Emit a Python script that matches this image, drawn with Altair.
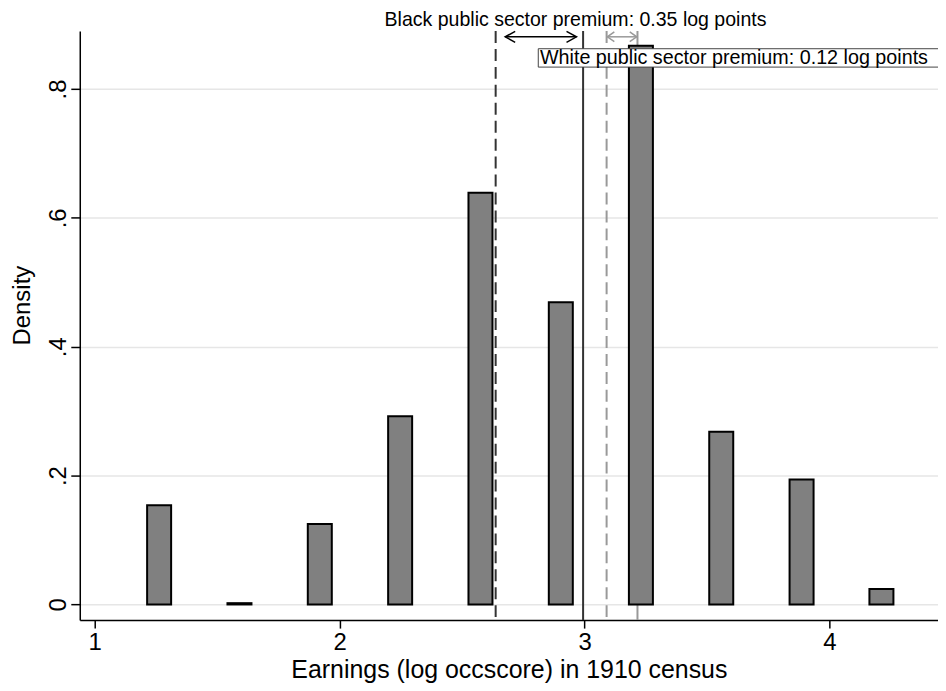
import altair as alt
import pandas as pd

# ---- data ----
bin_centers = [1.263, 1.591, 1.919, 2.247, 2.575, 2.903, 3.230, 3.558, 3.886, 4.212]
densities = [0.154, 0.002, 0.125, 0.292, 0.639, 0.469, 0.867, 0.268, 0.194, 0.024]

black_private_mean = 2.637
black_public_mean = 2.994
white_private_mean = 3.090
white_public_mean = 3.216

x_ticks = [1, 2, 3, 4]
y_ticks = [0, 0.2, 0.4, 0.6, 0.8]

black_label = "Black public sector premium: 0.35 log points"
white_label = "White public sector premium: 0.12 log points"
x_title = "Earnings (log occscore) in 1910 census"
y_title = "Density"

# ---- layout constants ----
W, H = 861, 591
HALF_BAR = 0.049
FONT = "Liberation Sans"
X_DOMAIN = [0.939, 4.443]
Y_DOMAIN = [-0.0243, 0.89]
ARROW_Y = 0.881

xs = alt.Scale(domain=X_DOMAIN, nice=False, zero=False)
ys = alt.Scale(domain=Y_DOMAIN, nice=False, zero=False)

bars_df = pd.DataFrame({"center": bin_centers, "density": densities})

x_axis = alt.Axis(
    values=x_ticks,
    format="d",
    grid=False,
    title=x_title,
    titleFontSize=25,
    titleFontWeight="normal",
    titleBaseline="alphabetic",
    titleY=58,
    labelFontSize=24,
    labelPadding=2,
    tickSize=8,
    tickColor="black",
    tickWidth=1.5,
    domainColor="black",
    domainWidth=1.5,
    labelColor="black",
    titleColor="black",
)

y_axis = alt.Axis(
    values=y_ticks,
    labelExpr="datum.value == 0 ? '0' : replace(format(datum.value, '.1f'), '0.', '.')",
    grid=True,
    gridColor="#e6e6e6",
    gridWidth=1.5,
    title=y_title,
    titleFontSize=24,
    titleFontWeight="normal",
    titleAngle=270,
    titleAlign="center",
    titleBaseline="alphabetic",
    titleX=-50,
    titleY=275,
    labelFontSize=24,
    labelAngle=270,
    labelAlign="center",
    labelBaseline="alphabetic",
    labelPadding=5,
    tickSize=9,
    tickColor="black",
    tickWidth=1.5,
    domainColor="black",
    domainWidth=1.5,
    labelColor="black",
    titleColor="black",
)


def X(field):
    return alt.X(field, scale=xs, axis=x_axis)


def Y(field):
    return alt.Y(field, scale=ys, axis=y_axis)


bars = (
    alt.Chart(bars_df)
    .transform_calculate(x0=f"datum.center - {HALF_BAR}", x1=f"datum.center + {HALF_BAR}")
    .mark_bar(color="#808080", stroke="black", strokeWidth=2)
    .encode(x=X("x0:Q"), x2="x1:Q", y=Y("density:Q"), y2=alt.Y2(datum=0))
)


def vline(xval, color, dash=None, width=2):
    kw = dict(color=color, strokeWidth=width)
    if dash:
        kw["strokeDash"] = dash
    return (
        alt.Chart(pd.DataFrame({"x0": [xval]}))
        .mark_rule(**kw)
        .encode(x=X("x0:Q"), y=alt.value(0), y2=alt.value(H))
    )


rules = [
    vline(black_private_mean, "#333333", [12, 6]),
    vline(black_public_mean, "#333333"),
    vline(white_private_mean, "#999999", [12, 6]),
    vline(white_public_mean, "#999999"),
]


def arrow(x_from, x_to, color, head_len_px, head_path_scale):
    line = (
        alt.Chart(pd.DataFrame({"x0": [x_from], "x1": [x_to], "density": [ARROW_Y]}))
        .mark_rule(color=color, strokeWidth=1.5)
        .encode(x=X("x0:Q"), x2="x1:Q", y=Y("density:Q"))
    )
    size = (2 * head_len_px) ** 2
    left = (
        alt.Chart(pd.DataFrame({"x0": [x_from], "density": [ARROW_Y]}))
        .mark_point(shape=f"M1,-{head_path_scale}L0,0L1,{head_path_scale}", size=size,
                    filled=False, stroke=color, strokeWidth=1.5, opacity=1)
        .encode(x=X("x0:Q"), y=Y("density:Q"))
    )
    right = (
        alt.Chart(pd.DataFrame({"x0": [x_to], "density": [ARROW_Y]}))
        .mark_point(shape=f"M-1,-{head_path_scale}L0,0L-1,{head_path_scale}", size=size,
                    filled=False, stroke=color, strokeWidth=1.5, opacity=1)
        .encode(x=X("x0:Q"), y=Y("density:Q"))
    )
    return [line, left, right]


black_arrow = arrow(2.676, 2.967, "black", 10, 0.55)
white_arrow = arrow(3.093, 3.213, "#999999", 7, 0.7)

black_text = (
    alt.Chart(pd.DataFrame({"x0": [2.963], "t": [black_label]}))
    .mark_text(fontSize=19.6, font=FONT, align="center", baseline="middle", color="black")
    .encode(x=X("x0:Q"), y=alt.value(-11), text="t:N")
)

white_box = (
    alt.Chart(pd.DataFrame({"x0": [2.811], "x1": [4.6], "density": [0.8625], "d2": [0.834]}))
    .mark_rect(fill="white", stroke="#444444", strokeWidth=1)
    .encode(x=X("x0:Q"), x2="x1:Q", y=Y("density:Q"), y2="d2:Q")
)

white_text = (
    alt.Chart(pd.DataFrame({"x0": [2.818], "density": [0.848], "t": [white_label]}))
    .mark_text(fontSize=19.8, font=FONT, align="left", baseline="middle", color="black")
    .encode(x=X("x0:Q"), y=Y("density:Q"), text="t:N")
)

chart = (
    alt.layer(*rules, bars, *black_arrow, *white_arrow, white_box, white_text, black_text)
    .properties(
        width=W,
        height=H,
        autosize=alt.AutoSizeParams(type="none"),
        padding={"left": 72, "top": 22, "right": 0, "bottom": 62},
    )
    .configure(font=FONT)
    .configure_view(strokeWidth=0)
)

chart.save("out.html", embed_options={"renderer": "svg", "actions": False})
